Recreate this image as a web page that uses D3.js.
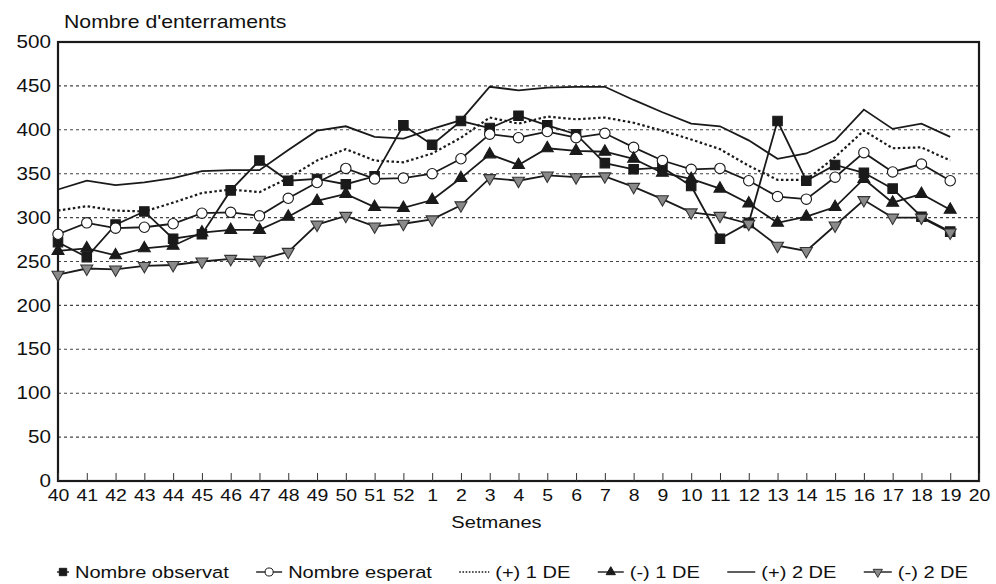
<!DOCTYPE html>
<html>
<head>
<meta charset="utf-8">
<style>
  body { margin: 0; background: #fff; }
  svg text { font-family: "Liberation Sans", Arial, sans-serif; fill: #111; }
</style>
</head>
<body>
<svg id="chart" width="996" height="584"></svg>
<script src="https://d3js.org/d3.v7.min.js"></script>
<script>

// weeks 40-52 of one year, then 1-20 of the next
var weeks = ["40","41","42","43","44","45","46","47","48","49","50","51","52",
             "1","2","3","4","5","6","7","8","9","10","11","12","13","14","15","16","17","18","19","20"];
var yTicks = [0, 50, 100, 150, 200, 250, 300, 350, 400, 450, 500];

var observat = [272,255,292,307,276,281,331,365,342,344,338,347,405,383,410,402,416,405,395,362,355,357,336,276,294,410,342,360,351,333,301,284];
var esperat  = [281,294,288,289,293,305,306,302,322,340,356,344,345,350,367,395,391,398,391,396,380,365,355,356,342,324,321,346,374,352,361,342];
var mes1DE   = [308,313,308,307,317,328,332,329,345,365,378,365,363,373,391,414,407,415,412,414,408,399,389,378,359,343,343,369,399,379,380,365];
var menys1DE = [262,265,257,265,268,283,286,286,301,319,327,312,311,320,345,372,360,379,376,375,367,351,344,333,316,294,301,312,344,317,327,309];
var mes2DE   = [332,342,337,340,345,353,354,354,377,399,404,392,390,401,411,449,445,448,449,449,434,420,407,404,388,367,373,388,423,401,407,392];
var menys2DE = [235,242,241,245,246,250,253,252,261,292,302,290,293,298,314,345,342,348,346,347,335,321,306,302,293,268,262,291,320,300,300,283];

var sx = 1.18; // text in the original is a bit wide

var svg = d3.select("#chart");
var pLeft = 58, pRight = 979, pTop = 42, pBottom = 481;

var x = d3.scalePoint().domain(weeks).range([pLeft, pRight]);
var y = d3.scaleLinear().domain([0, 500]).range([pBottom, pTop]);

// dotted grid
svg.append("g")
    .selectAll("line")
    .data(yTicks.filter(function (d) { return d > 0 && d < 500; }))
    .enter().append("line")
    .attr("x1", pLeft).attr("x2", pRight)
    .attr("y1", function (d) { return y(d); })
    .attr("y2", function (d) { return y(d); })
    .attr("stroke", "#444")
    .attr("stroke-width", 1.1)
    .attr("stroke-dasharray", "3,3");

// frame
svg.append("rect")
    .attr("x", pLeft).attr("y", pTop)
    .attr("width", pRight - pLeft).attr("height", pBottom - pTop)
    .attr("fill", "none")
    .attr("stroke", "#1a1a1a")
    .attr("stroke-width", 2.2);

// y axis labels
var yAxis = svg.append("g")
    .attr("transform", "translate(" + pLeft + ",0)")
    .call(d3.axisLeft(y).tickValues(yTicks).tickSize(0).tickPadding(7));
yAxis.select(".domain").remove();
yAxis.selectAll("text")
    .attr("x", -7 / sx)
    .attr("transform", "scale(" + sx + ",1)")
    .style("font-size", "17.5px")
    .style("fill", "#111");

// x axis, ticks pointing inward
var xAxis = svg.append("g")
    .attr("transform", "translate(0," + pBottom + ")")
    .call(d3.axisBottom(x).tickSize(-8).tickPadding(8));
xAxis.select(".domain").remove();
xAxis.selectAll("line").attr("stroke", "#333").attr("stroke-width", 1);
xAxis.selectAll("text")
    .attr("transform", "scale(" + sx + ",1)")
    .style("font-size", "16.5px")
    .style("fill", "#111");

// titles
svg.append("text")
    .attr("transform", "translate(64,28) scale(" + sx + ",1)")
    .style("font-size", "18px")
    .text("Nombre d'enterraments");

svg.append("text")
    .attr("transform", "translate(" + ((pLeft + pRight) / 2 - 22) + ",528) scale(" + sx + ",1)")
    .attr("text-anchor", "middle")
    .style("font-size", "17px")
    .text("Setmanes");

// series
var series = [
    {name: "Nombre observat", values: observat, dash: null, symbol: d3.symbolSquare, size: 90, fill: "#1a1a1a", stroke: "#1a1a1a", rot: 0},
    {name: "Nombre esperat", values: esperat, dash: null, symbol: d3.symbolCircle, size: 85, fill: "#fff", stroke: "#1a1a1a", rot: 0},
    {name: "(+) 1 DE", values: mes1DE, dash: "2.5,2.5", symbol: null},
    {name: "(-) 1 DE", values: menys1DE, dash: null, symbol: d3.symbolTriangle, size: 62, fill: "#1a1a1a", stroke: "#1a1a1a", rot: 0},
    {name: "(+) 2 DE", values: mes2DE, dash: null, symbol: null},
    {name: "(-) 2 DE", values: menys2DE, dash: null, symbol: d3.symbolTriangle, size: 62, fill: "#8a8a8a", stroke: "#333", rot: 180}
];

var line = d3.line()
    .x(function (d, i) { return x(weeks[i]); })
    .y(function (d) { return y(d); });

series.forEach(function (s) {
    var g = svg.append("g");
    g.append("path")
        .datum(s.values)
        .attr("d", line)
        .attr("fill", "none")
        .attr("stroke", "#1a1a1a")
        .attr("stroke-width", s.dash ? 2.2 : 1.8)
        .attr("stroke-dasharray", s.dash);
    if (s.symbol) {
        g.selectAll("path.mark")
            .data(s.values)
            .enter().append("path")
            .attr("class", "mark")
            .attr("d", d3.symbol().type(s.symbol).size(s.size))
            .attr("transform", function (d, i) {
                return "translate(" + x(weeks[i]) + "," + y(d) + ") rotate(" + s.rot + ")";
            })
            .attr("fill", s.fill)
            .attr("stroke", s.stroke)
            .attr("stroke-width", 1.1);
    }
});

// legend
var legY = 572;
var leg = svg.append("g");
var symW = [12, 26, 30, 26, 28, 28];
var items = [];
series.forEach(function (s, i) {
    var g = leg.append("g");
    var t = g.append("text")
        .attr("y", 6)
        .style("font-size", "17px")
        .text(s.name);
    items.push({g: g, t: t, w: t.node().getComputedTextLength() * sx, sw: symW[i], s: s});
});
var total = d3.sum(items, function (d) { return d.sw + 6 + d.w; });
var gap = (968 - 57 - total) / (items.length - 1);
var cx = 57;
items.forEach(function (it) {
    var s = it.s;
    it.g.attr("transform", "translate(" + cx + "," + legY + ")");
    it.t.attr("transform", "translate(" + (it.sw + 6) + ",0) scale(" + sx + ",1)");
    it.g.insert("line", "text")
        .attr("x1", 0).attr("x2", it.sw)
        .attr("y1", 0).attr("y2", 0)
        .attr("stroke", "#1a1a1a")
        .attr("stroke-width", s.dash ? 1.6 : 1.4)
        .attr("stroke-dasharray", s.dash ? "1.6,1.6" : null);
    if (s.symbol) {
        it.g.insert("path", "text")
            .attr("d", d3.symbol().type(s.symbol).size(s.size * 0.6))
            .attr("transform", "translate(" + (it.sw / 2) + ",0) rotate(" + s.rot + ")")
            .attr("fill", s.fill)
            .attr("stroke", s.stroke)
            .attr("stroke-width", 1);
    }
    cx += it.sw + 6 + it.w + gap;
});

</script>
</body>
</html>
